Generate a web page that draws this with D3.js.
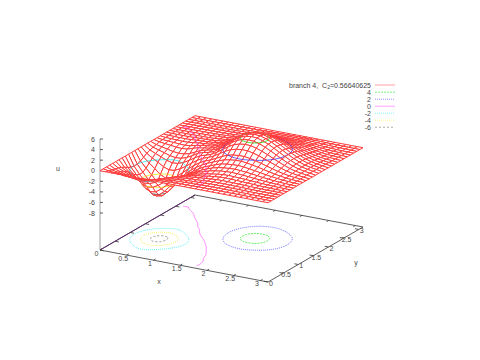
<!DOCTYPE html>
<html><head><meta charset="utf-8">
<style>html,body{margin:0;background:#fff}svg{display:block}text{font-family:"Liberation Sans",Arial,sans-serif;font-size:7px;fill:#444}</style>
<script src="https://cdn.jsdelivr.net/npm/d3@7/dist/d3.min.js"></script></head><body>
<script>
const xTicks=[0,.5,1,1.5,2,2.5,3];
const yTicks=[0,.5,1,1.5,2,2.5,3];
const zTicks=[6,4,2,0,-2,-4,-6,-8];
const levels=[4,2,0,-2,-4,-6];
const legendTitle="branch 4,\u00a0\u00a0C";
const legendValue="=0.56640625";
const levelColors=["#00e000","#2020ff","#ff40ff","#00e8e8","#e8e800","#555555"];
const levelDash=["2,1","1,1","none","1,1","1,1","2,2"];
const uRows=[
[0,0,0,0,0,0,0,0,0,0,0,0,0,0,0,0,0,0,0,0,0,0,0,0,0,0,0,0,0,0,0],
[0,-.19,-.31,-.42,-.55,-.62,-.6,-.51,-.4,-.29,-.2,-.15,-.1,-.07,-.05,-.03,-.02,.01,.02,.02,.02,.02,.01,.01,.01,.01,0,0,0,0,0],
[0,-.35,-.58,-.8,-1.03,-1.17,-1.13,-.97,-.76,-.55,-.38,-.27,-.19,-.12,-.08,-.05,-.03,.01,.04,.05,.05,.04,.03,.03,.02,.02,.01,.01,0,0,0],
[0,-.52,-.87,-1.18,-1.52,-1.73,-1.68,-1.44,-1.12,-.8,-.56,-.4,-.26,-.17,-.1,-.06,-.03,.02,.07,.09,.08,.07,.06,.05,.04,.03,.02,.01,.01,0,0],
[0,-.68,-1.14,-1.55,-2.01,-2.28,-2.21,-1.88,-1.47,-1.06,-.73,-.52,-.35,-.21,-.13,-.08,-.02,.06,.12,.14,.13,.11,.1,.08,.06,.04,.03,.02,.01,.01,0],
[0,-.91,-1.52,-2.07,-2.68,-3.03,-2.94,-2.51,-1.96,-1.41,-.97,-.68,-.46,-.28,-.16,-.07,.03,.12,.2,.23,.21,.19,.16,.13,.1,.07,.05,.03,.02,.01,0],
[0,-1.24,-2.07,-2.81,-3.64,-4.13,-4,-3.42,-2.67,-1.91,-1.32,-.92,-.6,-.36,-.2,-.1,.1,.22,.33,.36,.34,.3,.26,.21,.16,.11,.08,.05,.03,.01,0],
[0,-1.61,-2.69,-3.66,-4.73,-5.37,-5.2,-4.44,-3.47,-2.48,-1.71,-1.19,-.77,-.46,-.25,0,.18,.33,.46,.5,.46,.41,.35,.29,.22,.16,.11,.07,.04,.02,0],
[0,-1.91,-3.17,-4.31,-5.58,-6.33,-6.13,-5.24,-4.08,-2.92,-2,-1.37,-.87,-.45,-.15,.2,.42,.58,.68,.73,.67,.6,.51,.41,.32,.23,.16,.1,.06,.03,0],
[0,-2.07,-3.44,-4.68,-6.05,-6.87,-6.66,-5.68,-4.43,-3.15,-2.15,-1.46,-.89,-.41,.04,.41,.69,.84,.94,.99,.92,.82,.7,.57,.43,.31,.21,.13,.08,.04,0],
[0,-2.03,-3.37,-4.58,-5.92,-6.72,-6.51,-5.55,-4.32,-3.05,-2.05,-1.34,-.7,-.1,.26,.7,1.03,1.2,1.31,1.35,1.26,1.12,.95,.77,.59,.43,.29,.18,.11,.06,0],
[0,-1.78,-2.95,-4.01,-5.18,-5.87,-5.69,-4.84,-3.74,-2.62,-1.72,-.95,-.32,.22,.65,1.08,1.46,1.66,1.78,1.8,1.67,1.49,1.27,1.03,.79,.57,.39,.24,.15,.07,0],
[0,-1.41,-2.32,-3.16,-4.08,-4.62,-4.47,-3.79,-2.91,-2,-1.15,-.45,.1,.5,1.01,1.56,1.99,2.23,2.34,2.34,2.17,1.94,1.65,1.34,1.03,.74,.5,.31,.19,.1,0],
[0,-1.03,-1.7,-2.3,-2.97,-3.36,-3.24,-2.72,-2.05,-1.25,-.55,.05,.4,.9,1.54,2.18,2.69,2.97,3.1,3.07,2.85,2.54,2.16,1.75,1.35,.97,.66,.41,.25,.13,0],
[0,-.74,-1.2,-1.63,-2.1,-2.37,-2.28,-1.89,-1.3,-.6,0,.3,.68,1.28,1.99,2.71,3.29,3.61,3.75,3.69,3.43,3.05,2.6,2.11,1.62,1.17,.79,.49,.3,.15,0],
[0,-.56,-.89,-1.2,-1.55,-1.73,-1.65,-1.3,-.75,-.1,.25,.48,.88,1.58,2.33,3.12,3.75,4.11,4.26,4.19,3.89,3.47,2.95,2.4,1.84,1.33,.9,.56,.34,.17,0],
[0,-.41,-.64,-.87,-1.12,-1.24,-1.18,-.9,-.4,.1,.35,.6,1.04,1.74,2.53,3.34,4.01,4.38,4.54,4.46,4.14,3.69,3.14,2.55,1.96,1.41,.96,.59,.36,.18,0],
[0,-.25,-.37,-.49,-.64,-.69,-.6,-.25,.05,.2,.38,.72,1.15,1.83,2.6,3.41,4.07,4.45,4.6,4.51,4.19,3.73,3.17,2.58,1.98,1.43,.97,.6,.37,.18,0],
[0,-.17,-.24,-.3,-.39,-.42,-.3,-.06,.16,.25,.42,.76,1.16,1.8,2.55,3.32,3.96,4.32,4.46,4.37,4.06,3.61,3.08,2.5,1.92,1.38,.94,.58,.36,.18,0],
[0,-.11,-.14,-.18,-.23,-.2,-.08,.05,.13,.24,.42,.75,1.1,1.7,2.37,3.09,3.68,4.02,4.14,4.06,3.77,3.35,2.86,2.32,1.78,1.28,.87,.54,.33,.17,0],
[0,-.06,-.07,-.09,-.1,-.06,.02,.07,.12,.23,.4,.67,.97,1.49,2.08,2.69,3.2,3.48,3.59,3.52,3.27,2.91,2.48,2.01,1.54,1.11,.75,.47,.29,.14,0],
[0,-.04,-.04,-.04,-.03,0,.03,.06,.1,.2,.36,.58,.82,1.25,1.73,2.24,2.66,2.9,2.99,2.93,2.72,2.42,2.06,1.67,1.29,.93,.63,.39,.24,.12,0],
[0,-.02,-.02,-.02,-.01,.02,.03,.05,.09,.18,.29,.46,.66,1,1.38,1.79,2.13,2.32,2.39,2.34,2.17,1.94,1.65,1.34,1.03,.74,.5,.31,.19,.1,0],
[0,-.02,-.02,-.01,.02,.03,.04,.07,.12,.17,.25,.39,.54,.81,1.12,1.45,1.72,1.87,1.93,1.89,1.76,1.56,1.33,1.08,.83,.6,.41,.25,.15,.08,0],
[0,-.01,-.01,.03,.03,.04,.05,.07,.09,.14,.2,.3,.43,.64,.88,1.14,1.35,1.47,1.52,1.49,1.38,1.23,1.05,.85,.65,.47,.32,.2,.12,.06,0],
[0,.01,.01,.02,.02,.03,.04,.05,.07,.1,.15,.23,.32,.48,.67,.86,1.02,1.12,1.15,1.13,1.05,.93,.79,.64,.49,.36,.24,.15,.09,.05,0],
[0,0,.01,.01,.02,.02,.03,.04,.05,.07,.11,.17,.23,.35,.48,.62,.74,.81,.83,.81,.76,.67,.57,.46,.36,.26,.17,.11,.07,.03,0],
[0,0,.01,.01,.01,.02,.02,.02,.03,.05,.07,.11,.15,.23,.32,.41,.49,.53,.55,.54,.5,.45,.38,.31,.24,.17,.12,.07,.04,.02,0],
[0,0,0,.01,.01,.01,.01,.02,.02,.03,.05,.07,.1,.16,.21,.28,.33,.36,.37,.36,.34,.3,.26,.21,.16,.11,.08,.05,.03,.01,0],
[0,0,0,0,0,.01,.01,.01,.01,.02,.02,.04,.05,.08,.1,.14,.16,.17,.18,.18,.16,.15,.12,.1,.08,.06,.04,.02,.01,.01,0],
[0,0,0,0,0,0,0,0,0,0,0,0,0,0,0,0,0,0,0,0,0,0,0,0,0,0,0,0,0,0,0]
];
const n=uRows.length, axisEnd=Math.PI, step=axisEnd/(n-1), zBase=-15;
const W=480,H=360;
const xPx=d3.scaleLinear([0,axisEnd],[100,268]), xPy=d3.scaleLinear([0,axisEnd],[250,282]);
const yPx=d3.scaleLinear([0,axisEnd],[0,95]),   yPy=d3.scaleLinear([0,axisEnd],[0,-55]);
const zPy=d3.scaleLinear([zBase,6],[0,-111]);
const proj=(x,y,z)=>[xPx(x)+yPx(y), xPy(x)+yPy(y)+zPy(z)];
const line=d3.line();
const svg=d3.select("body").append("svg").attr("width",W).attr("height",H);

// contours via d3.contours (returned ascending, so index by value), split at the domain border
const cg=d3.contours().size([n,n]).smooth(true).thresholds(levels)(uRows.flat());
const eps=.002;
const paths=levels.map(()=>[]);
cg.forEach(c=>{
  const out=paths[levels.indexOf(c.value)];
  c.coordinates.forEach(poly=>poly.forEach(r=>{
    let cur=[];
    r.forEach(p=>{
      const gx=p[0]-.5, gy=p[1]-.5;
      if(gx<=eps||gy<=eps||gx>=n-1-eps||gy>=n-1-eps){ if(cur.length>1)out.push(cur); cur=[]; }
      else cur.push([gx*step,gy*step]);
    });
    if(cur.length>1)out.push(cur);
  }));
});

// base-plane contours
const base=svg.append("g").attr("fill","none").attr("stroke-width",.6);
paths.forEach((ps,k)=>base.selectAll(null).data(ps).join("path")
  .attr("d",d=>d3.line().curve(d3.curveBasis)(d.map(p=>proj(p[0],p[1],zBase))))
  .attr("stroke",levelColors[k]).attr("stroke-dasharray",levelDash[k]));

// axes frame
const ax=svg.append("g").attr("stroke","#333").attr("stroke-width",.8).attr("fill","none");
ax.append("path").attr("d",line([proj(0,0,zBase),proj(axisEnd,0,zBase),proj(axisEnd,axisEnd,zBase),proj(0,axisEnd,zBase)])+"Z");
ax.append("path").attr("stroke","#602a70").attr("stroke-width",1).attr("d",line([proj(0,0,zBase),proj(0,axisEnd,zBase)]));
ax.append("path").attr("stroke","#777").attr("stroke-width",.7).attr("d",line([proj(0,0,6),proj(0,0,zBase)]));
const seg=(a,b)=>ax.append("path").attr("d",line([a,b]));
xTicks.forEach(t=>{seg(proj(t,0,zBase),proj(t,.07,zBase));seg(proj(t,axisEnd,zBase),proj(t,axisEnd-.07,zBase));});
yTicks.forEach(t=>{seg(proj(axisEnd,t,zBase),proj(axisEnd-.07,t,zBase));seg(proj(0,t,zBase),proj(.07,t,zBase));});
zTicks.forEach(t=>{const p=proj(0,0,t);seg(p,[p[0]+3,p[1]]);});

// surface: quads far to near with white fill = hidden lines, contours per cell
const cells=d3.range((n-1)*(n-1)).map(()=>[]);
paths.forEach((ps,k)=>ps.forEach(pl=>{
  for(let i=1;i<pl.length;i++){
    const mx=(pl[i][0]+pl[i-1][0])/2, my=(pl[i][1]+pl[i-1][1])/2;
    const ci=Math.min(n-2,Math.floor(mx/step)), cj=Math.min(n-2,Math.floor(my/step));
    cells[cj*(n-1)+ci].push({k,a:pl[i-1],b:pl[i]});
  }
}));
const quads=[];
for(let j=n-2;j>=0;j--)for(let i=0;i<n-1;i++)quads.push({i,j});
const qg=svg.append("g").selectAll("g").data(quads).join("g");
qg.append("path")
  .attr("d",({i,j})=>line([
    proj(i*step,j*step,uRows[j][i]),proj((i+1)*step,j*step,uRows[j][i+1]),
    proj((i+1)*step,(j+1)*step,uRows[j+1][i+1]),proj(i*step,(j+1)*step,uRows[j+1][i])])+"Z")
  .attr("fill","#fff").attr("stroke","#ff3c3c").attr("stroke-width",1).attr("stroke-linejoin","round");
qg.selectAll("path.c").data(({i,j})=>cells[j*(n-1)+i]).join("path").attr("class","c")
  .attr("d",d=>line([proj(d.a[0],d.a[1],levels[d.k]),proj(d.b[0],d.b[1],levels[d.k])]))
  .attr("fill","none").attr("stroke-width",.7).attr("stroke",d=>levelColors[d.k]);

// tick labels
const lab=svg.append("g");
const txt=(x,y,s,a)=>lab.append("text").attr("x",x).attr("y",y).attr("text-anchor",a||"middle").text(s);
xTicks.forEach(t=>{const p=proj(t,0,zBase);txt(p[0]-3.5,p[1]+5.5,String(t));});
yTicks.forEach(t=>{const p=proj(axisEnd,t,zBase);txt(p[0]+3,p[1]+3.8,String(t));});
zTicks.forEach(t=>{const p=proj(0,0,t);txt(p[0]-5,p[1]+2.5,String(t),"end");});
txt(159,283.5,"x");txt(356,265,"y");txt(58,170.5,"u");

// legend
const lg=svg.append("g");
const t0=lg.append("text").attr("x",371).attr("y",87.5).attr("text-anchor","end");
t0.append("tspan").text(legendTitle);
t0.append("tspan").attr("dy",1.5).attr("font-size",5).text("2");
t0.append("tspan").attr("dy",-1.5).text(legendValue);
lg.append("path").attr("d",line([[375,85],[395,85]])).attr("stroke","#ff6060").attr("stroke-width",.6);
levels.forEach((l,k)=>{
  const y=92.2+k*7;
  lg.append("text").attr("x",371).attr("y",y+2.5).attr("text-anchor","end").text(String(l));
  lg.append("path").attr("d",line([[375,y],[395,y]])).attr("stroke",levelColors[k]).attr("stroke-width",.5).attr("stroke-dasharray",levelDash[k]);
});
</script></body></html>
